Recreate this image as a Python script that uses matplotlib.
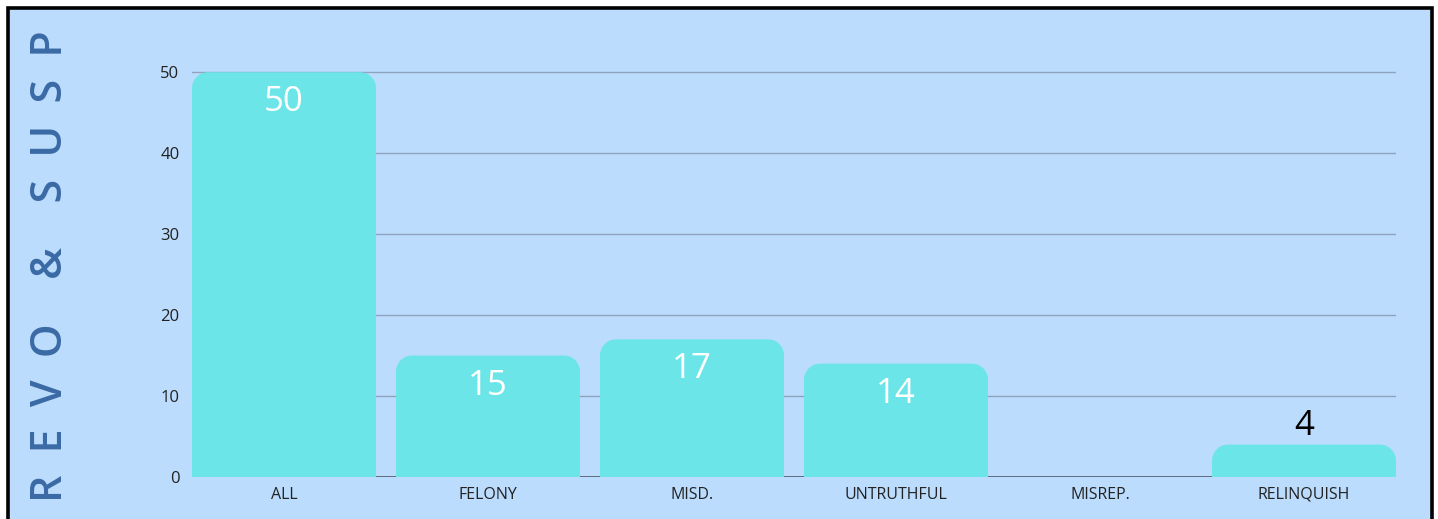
import matplotlib
matplotlib.use("Agg")
import matplotlib.pyplot as plt
from matplotlib.path import Path
from matplotlib.patches import PathPatch, Rectangle

categories = ["ALL", "FELONY", "MISD.", "UNTRUTHFUL", "MISREP.", "RELINQUISH"]
values = [50, 15, 17, 14, 0, 4]
y_ticks = [0, 10, 20, 30, 40, 50]
title = "REVO & SUSP"

BG = "#bbdcfc"
BAR = "#6ce5e8"
GRID = "#8fa3be"
TITLE_COLOR = "#3a6aa5"

plt.rcParams["font.family"] = ["Open Sans", "DejaVu Sans"]

W, H, DPI = 1438, 519, 100
fig = plt.figure(figsize=(W / DPI, H / DPI), dpi=DPI, facecolor="white")

# blue panel with black frame (bottom edge runs off the image)
fig.patches.append(Rectangle((8 / W, -0.05), (1432 - 8) / W, 1.05 - 8 / H,
                             transform=fig.transFigure, facecolor=BG,
                             edgecolor="black", linewidth=2.6, zorder=-5))

ax = fig.add_axes([192 / W, (H - 477) / H, (1396 - 192) / W, 421 / H])
ax.set_facecolor("none")
ax.set_xlim(-0.451, len(categories) - 1 + 0.451)
ax.set_ylim(0, 52)

width = 0.902
px_x = (1396 - 192) / (ax.get_xlim()[1] - ax.get_xlim()[0])
px_y = 421 / 52
rx, ry = 16 / px_x, 16 / px_y


def rounded_bar(x0, x1, h):
    r_y = min(ry, h)
    r_x = rx
    k = 0.5523
    verts = [
        (x0, 0), (x0, h - r_y),
        (x0, h - r_y + k * r_y), (x0 + r_x - k * r_x, h), (x0 + r_x, h),
        (x1 - r_x, h),
        (x1 - r_x + k * r_x, h), (x1, h - r_y + k * r_y), (x1, h - r_y),
        (x1, 0), (x0, 0),
    ]
    codes = [Path.MOVETO, Path.LINETO,
             Path.CURVE4, Path.CURVE4, Path.CURVE4,
             Path.LINETO,
             Path.CURVE4, Path.CURVE4, Path.CURVE4,
             Path.LINETO, Path.CLOSEPOLY]
    return Path(verts, codes)


for t in y_ticks[1:]:
    ax.axhline(t, color=GRID, linewidth=1.0, zorder=1)
ax.axhline(0, color="#4f5b6b", linewidth=1.2, zorder=1)

for i, v in enumerate(values):
    if v <= 0:
        continue
    ax.add_patch(PathPatch(rounded_bar(i - width / 2, i + width / 2, v),
                           facecolor=BAR, edgecolor="none", zorder=2))
    if v >= 10:
        ax.text(i, v - 30 / px_y, str(v), ha="center", va="center",
                color="white", fontsize=25, zorder=3)
    else:
        ax.text(i, v + 19 / px_y, str(v), ha="center", va="center",
                color="black", fontsize=25, zorder=3)

ax.set_xticks(range(len(categories)))
ax.set_xticklabels(categories)
ax.set_yticks(y_ticks)
ax.tick_params(axis="both", length=0, colors="#222222")
ax.tick_params(axis="y", pad=9, labelsize=12)
ax.tick_params(axis="x", pad=7, labelsize=11.5)
for s in ax.spines.values():
    s.set_visible(False)

words = ["  ".join(w) for w in title.split(" & ")]
spaced = "    &    ".join(words)
fig.text(51 / W, 1 - 266 / H, spaced,
         rotation=90, ha="center", va="center", color=TITLE_COLOR,
         fontsize=31, fontweight="semibold")

fig.savefig("out.png", dpi=DPI, facecolor="white")
